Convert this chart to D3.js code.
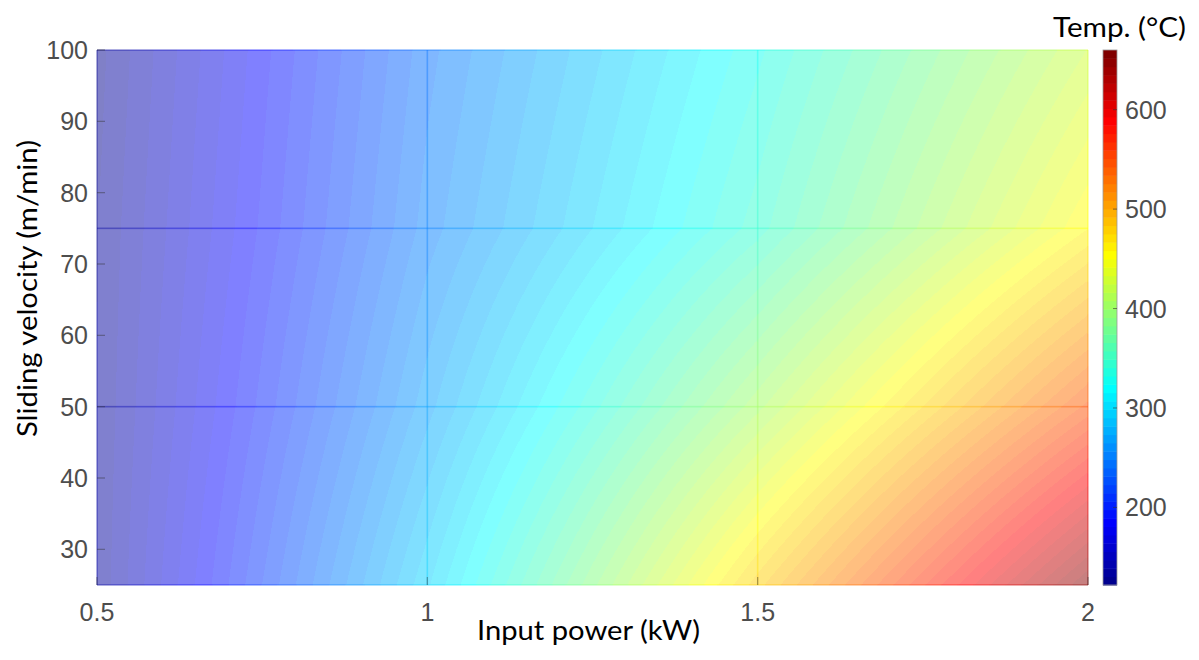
<!DOCTYPE html>
<html>
<head>
<meta charset="utf-8">
<script src="https://cdn.jsdelivr.net/npm/d3@7"></script>
<style>
  body { margin: 0; background: #fff; }
  svg { display: block; }
</style>
</head>
<body>
<div id="chart"></div>
<script>
// grid nodes of the map (input power in kW, sliding velocity in m/min)
var power = [0.5, 1, 1.5, 2];
var velocity = [25, 50, 75, 100];

// temperature (°C) at each power node, one list per velocity
var tempAt25 = [132, 297, 480, 652];
var tempAt50 = [131, 270, 405, 545];
var tempAt75 = [130, 252, 345, 458];
var tempAt100 = [127, 245, 330, 425];

var colorRange = [122, 660];

var xTicks = [0.5, 1, 1.5, 2];
var yTicks = [30, 40, 50, 60, 70, 80, 90, 100];
var cbTicks = [200, 300, 400, 500, 600];

var tempRows = [tempAt25, tempAt50, tempAt75, tempAt100];

var W = 1199, H = 660;
var plot = { left: 97, right: 1088, top: 50, bottom: 585 };

var svg = d3.select("#chart").append("svg")
  .attr("width", W)
  .attr("height", H);

var x = d3.scaleLinear().domain([0.5, 2]).range([plot.left, plot.right]);
var y = d3.scaleLinear().domain([25, 100]).range([plot.bottom, plot.top]);

// matlab style jet colormap, 64 levels
function jetMap(m) {
  var n = Math.ceil(m / 4);
  var u = [];
  for (var k = 1; k <= n; k++) u.push(k / n);
  for (var k = 1; k < n; k++) u.push(1);
  for (var k = n; k >= 1; k--) u.push(k / n);
  var g0 = Math.ceil(n / 2) - (m % 4 === 1 ? 1 : 0);
  var cols = d3.range(m).map(function () { return [0, 0, 0]; });
  u.forEach(function (val, i) {
    var g = g0 + i + 1, r = g + n, b = g - n;
    if (r >= 1 && r <= m) cols[r - 1][0] = val;
    if (g >= 1 && g <= m) cols[g - 1][1] = val;
    if (b >= 1 && b <= m) cols[b - 1][2] = val;
  });
  return cols;
}
var jet = jetMap(64);
var level = d3.scaleQuantize().domain(colorRange).range(d3.range(64));

function jetRgb(v, alpha) {
  var c = jet[level(v)];
  // blend with white background
  return c.map(function (ch) { return Math.round((ch * alpha + (1 - alpha)) * 255); });
}
function jetCss(v) {
  var c = jet[level(v)];
  return d3.rgb(c[0] * 255, c[1] * 255, c[2] * 255).toString();
}

// bilinear lookup between the grid nodes
function seg(arr, t) {
  var i = d3.bisectRight(arr, t) - 1;
  i = Math.max(0, Math.min(arr.length - 2, i));
  var f = (t - arr[i]) / (arr[i + 1] - arr[i]);
  return [i, Math.max(0, Math.min(1, f))];
}
function tempAt(p, v) {
  var a = seg(power, p), b = seg(velocity, v);
  var i = a[0], fx = a[1], j = b[0], fy = b[1];
  var lo = tempRows[j][i] * (1 - fx) + tempRows[j][i + 1] * fx;
  var hi = tempRows[j + 1][i] * (1 - fx) + tempRows[j + 1][i + 1] * fx;
  return lo * (1 - fy) + hi * fy;
}

// ---- heat map (semi transparent surface) ----
var pw = plot.right - plot.left, ph = plot.bottom - plot.top;
var canvas = document.createElement("canvas");
canvas.width = pw;
canvas.height = ph;
var ctx = canvas.getContext("2d");
var img = ctx.createImageData(pw, ph);
for (var py = 0; py < ph; py++) {
  var v = y.invert(plot.top + py + 0.5);
  for (var px = 0; px < pw; px++) {
    var p = x.invert(plot.left + px + 0.5);
    var c = jetRgb(tempAt(p, v), 0.5);
    var o = (py * pw + px) * 4;
    img.data[o] = c[0];
    img.data[o + 1] = c[1];
    img.data[o + 2] = c[2];
    img.data[o + 3] = 255;
  }
}
ctx.putImageData(img, 0, 0);

svg.append("image")
  .attr("x", plot.left)
  .attr("y", plot.top)
  .attr("width", pw)
  .attr("height", ph)
  .attr("preserveAspectRatio", "none")
  .attr("href", canvas.toDataURL());

// ---- mesh lines (edges of the surface) ----
var mesh = svg.append("g").attr("stroke-width", 1.6).attr("stroke-opacity", 0.4);
power.forEach(function (p) {
  for (var yy = plot.top; yy < plot.bottom; yy += 4) {
    var vm = y.invert(yy + 2);
    mesh.append("line")
      .attr("x1", x(p)).attr("x2", x(p))
      .attr("y1", yy).attr("y2", Math.min(yy + 4, plot.bottom))
      .attr("stroke", jetCss(tempAt(p, vm)));
  }
});
velocity.forEach(function (v) {
  for (var xx = plot.left; xx < plot.right; xx += 4) {
    var pm = x.invert(xx + 2);
    mesh.append("line")
      .attr("y1", y(v)).attr("y2", y(v))
      .attr("x1", xx).attr("x2", Math.min(xx + 4, plot.right))
      .attr("stroke", jetCss(tempAt(pm, v)));
  }
});

// ---- axes ----
var tickColor = "#4d4d4d";
svg.append("g").selectAll("line")
  .data(yTicks)
  .enter().append("line")
  .attr("x1", plot.left).attr("x2", plot.left + 8)
  .attr("y1", function (d) { return y(d); })
  .attr("y2", function (d) { return y(d); })
  .attr("stroke", "#333").attr("stroke-opacity", 0.45).attr("stroke-width", 1.2);

svg.append("g").selectAll("line")
  .data(xTicks)
  .enter().append("line")
  .attr("y1", plot.bottom).attr("y2", plot.bottom - 8)
  .attr("x1", function (d) { return x(d); })
  .attr("x2", function (d) { return x(d); })
  .attr("stroke", "#333").attr("stroke-opacity", 0.45).attr("stroke-width", 1.2);

svg.append("g").selectAll("text")
  .data(yTicks)
  .enter().append("text")
  .attr("x", plot.left - 9)
  .attr("y", function (d) { return y(d); })
  .attr("dy", "0.36em")
  .attr("text-anchor", "end")
  .style("font-family", "'Liberation Sans', Arial, sans-serif")
  .style("font-size", "25px")
  .style("fill", tickColor)
  .text(function (d) { return d; });

svg.append("g").selectAll("text")
  .data(xTicks)
  .enter().append("text")
  .attr("x", function (d) { return x(d); })
  .attr("y", 621)
  .attr("text-anchor", "middle")
  .style("font-family", "'Liberation Sans', Arial, sans-serif")
  .style("font-size", "25px")
  .style("fill", tickColor)
  .text(function (d) { return d; });

// axis titles
svg.append("text")
  .attr("x", 477)
  .attr("y", 640)
  .attr("textLength", 223)
  .attr("lengthAdjust", "spacingAndGlyphs")
  .style("font-family", "Lato, 'Open Sans', sans-serif")
  .style("font-size", "27px")
  .style("fill", "#000")
  .text("Input power (kW)");

svg.append("text")
  .attr("transform", "translate(37,437) rotate(-90)")
  .attr("textLength", 297)
  .attr("lengthAdjust", "spacingAndGlyphs")
  .style("font-family", "Lato, 'Open Sans', sans-serif")
  .style("font-size", "27px")
  .style("fill", "#000")
  .text("Sliding velocity (m/min)");

// ---- colorbar ----
var cb = { left: 1103, width: 14 };
var cbY = d3.scaleLinear().domain(colorRange).range([plot.bottom, plot.top]);
var step = (colorRange[1] - colorRange[0]) / 64;

svg.append("g").selectAll("rect")
  .data(jet)
  .enter().append("rect")
  .attr("x", cb.left)
  .attr("width", cb.width)
  .attr("y", function (d, i) { return cbY(colorRange[0] + (i + 1) * step); })
  .attr("height", function (d, i) {
    return cbY(colorRange[0] + i * step) - cbY(colorRange[0] + (i + 1) * step) + 0.5;
  })
  .attr("fill", function (d) { return d3.rgb(d[0] * 255, d[1] * 255, d[2] * 255); });

svg.append("rect")
  .attr("x", cb.left).attr("y", plot.top)
  .attr("width", cb.width).attr("height", plot.bottom - plot.top)
  .attr("fill", "none").attr("stroke", "#9a9a9a").attr("stroke-width", 0.8);

svg.append("g").selectAll("line")
  .data(cbTicks)
  .enter().append("line")
  .attr("x1", cb.left + cb.width - 4).attr("x2", cb.left + cb.width)
  .attr("y1", function (d) { return cbY(d); })
  .attr("y2", function (d) { return cbY(d); })
  .attr("stroke", "#333").attr("stroke-opacity", 0.6);

svg.append("g").selectAll("text")
  .data(cbTicks)
  .enter().append("text")
  .attr("x", 1125)
  .attr("y", function (d) { return cbY(d); })
  .attr("dy", "0.36em")
  .style("font-family", "'Liberation Sans', Arial, sans-serif")
  .style("font-size", "25px")
  .style("fill", tickColor)
  .text(function (d) { return d; });

svg.append("text")
  .attr("x", 1053)
  .attr("y", 37)
  .attr("textLength", 133)
  .attr("lengthAdjust", "spacingAndGlyphs")
  .style("font-family", "Lato, 'Open Sans', sans-serif")
  .style("font-size", "27px")
  .style("fill", "#000")
  .text("Temp. (°C)");
</script>
</body>
</html>
